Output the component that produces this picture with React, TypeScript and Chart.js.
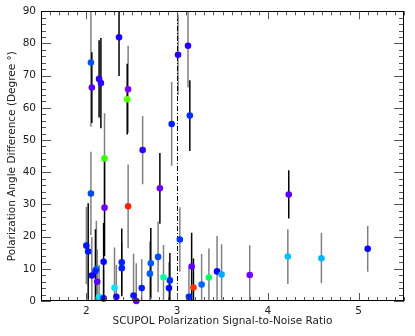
import React, { useEffect, useRef } from "react";
import { Chart, registerables } from "chart.js";

Chart.register(...registerables);

// SCUPOL signal-to-noise ratio (x)
const snr = [
  2.05, 2.06, 2.14, 2.16, 2.36, 2.46, 2.45, 2.62, 2.2, 3.12,
  3.01, 3.14, 2.94, 2.81, 2.05, 2.2, 2.46, 2.0, 2.02, 2.19,
  2.39, 2.39, 2.11, 2.1, 2.06, 2.12, 2.31, 2.14, 2.19, 2.33,
  2.52, 2.55, 2.61, 3.03, 2.71, 2.79, 2.7, 2.85, 2.92, 2.91,
  3.16, 3.18, 3.13, 3.27, 3.35, 3.44, 3.49, 3.8, 4.23, 4.22,
  4.59, 5.1,
];
// Polarization angle difference (degrees)
const angleDiff = [
  74.1, 66.3, 69.0, 67.7, 81.9, 65.8, 62.7, 46.9, 44.3, 79.3,
  76.5, 57.6, 55.0, 35.0, 33.4, 29.0, 29.4, 17.2, 15.4, 12.2,
  12.0, 10.2, 9.9, 9.3, 7.9, 6.0, 4.1, 1.3, 0.8, 1.3,
  1.7, 0.0, 4.0, 19.1, 11.7, 13.7, 8.5, 7.4, 6.4, 4.0,
  10.7, 4.2, 1.3, 5.1, 7.3, 9.2, 8.2, 8.1, 33.1, 13.8,
  13.3, 16.2,
];
// Angle uncertainty (degrees)
const angleErr = [
  20, 11, 12, 14, 12, 13.5, 11, 10.6, 14, 13,
  12.5, 11, 13, 11, 13, 15, 13, 12, 15, 12,
  10.5, 8, 15, 13, 12, 10, 12.5, 10, 9, 10,
  13, 11.7, 9, 10, 11, 11, 10, 10, 8.5, 8,
  10.5, 9, 9, 9.5, 9, 11, 9.4, 9.2, 7.5, 8.5,
  7.8, 7.1,
];
// Sample flag (1 = primary sample, 0 = secondary)
const primarySample = [
  0, 1, 1, 1, 1, 0, 1, 0, 0, 0,
  0, 1, 0, 1, 0, 1, 0, 0, 1, 1,
  1, 0, 0, 1, 0, 0, 0, 0, 0, 0,
  0, 0, 0, 0, 1, 0, 0, 0, 1, 0,
  1, 1, 0, 0, 0, 0, 0, 0, 1, 0,
  0, 0,
];
// Colour-coded quantity (0..1 on a rainbow scale)
const colorLevel = [
  0.18, 0.03, 0.07, 0.07, 0.09, 0.0, 0.63, 0.07, 0.6, 0.08,
  0.08, 0.15, 0.14, 0.02, 0.17, 0.01, 0.97, 0.13, 0.13, 0.12,
  0.14, 0.14, 0.2, 0.14, 0.1, 0.03, 0.31, 0.31, 0.11, 0.09,
  0.13, 0.03, 0.14, 0.16, 0.19, 0.18, 0.19, 0.41, 0.15, 0.11,
  0.03, 0.96, 0.14, 0.2, 0.47, 0.11, 0.26, 0.01, 0.03, 0.28,
  0.27, 0.1,
];
const xTickValues = [2, 3, 4, 5];
const yTickValues = [0, 10, 20, 30, 40, 50, 60, 70, 80, 90];
const snrThreshold = 3.0;

const FONT = "'DejaVu Sans', sans-serif";

function rainbow(level: number): string {
  const hue = 270 * (1 - level);
  return `hsl(${hue}, 100%, 50%)`;
}

const errorBarPlugin = {
  id: "errorBars",
  beforeDatasetsDraw(chart: any) {
    const { ctx, chartArea, scales } = chart;
    const xs = scales.x;
    const ys = scales.y;
    ctx.save();
    ctx.beginPath();
    ctx.rect(chartArea.left, chartArea.top, chartArea.right - chartArea.left, chartArea.bottom - chartArea.top);
    ctx.clip();
    ctx.lineWidth = 1.5;
    [0, 1].forEach((flag) => {
      ctx.strokeStyle = flag ? "#000000" : "#808080";
      snr.forEach((x, i) => {
        if (primarySample[i] !== flag) return;
        const px = xs.getPixelForValue(x);
        const y1 = ys.getPixelForValue(angleDiff[i] - angleErr[i]);
        const y2 = ys.getPixelForValue(angleDiff[i] + angleErr[i]);
        ctx.beginPath();
        ctx.moveTo(px, y1);
        ctx.lineTo(px, y2);
        ctx.stroke();
      });
    });
    // threshold dash-dot line
    const tx = Math.round(xs.getPixelForValue(snrThreshold)) + 0.5;
    ctx.strokeStyle = "#000000";
    ctx.lineWidth = 1;
    ctx.setLineDash([5, 2, 1, 2]);
    ctx.beginPath();
    ctx.moveTo(tx, chartArea.bottom);
    ctx.lineTo(tx, chartArea.top);
    ctx.stroke();
    ctx.restore();
  },
};

const frameTicksPlugin = {
  id: "frameTicks",
  afterDatasetsDraw(chart: any) {
    const { ctx, chartArea, scales } = chart;
    const { left, right, top, bottom } = chartArea;
    const xs = scales.x;
    const ys = scales.y;
    ctx.save();
    ctx.lineWidth = 1;
    ctx.strokeStyle = "#555555";
    for (let k = 15; k <= 55; k++) {
      const v = k / 10;
      const px = Math.round(xs.getPixelForValue(v)) + 0.5;
      const len = k % 10 === 0 ? 8 : 4;
      ctx.beginPath();
      ctx.moveTo(px, bottom);
      ctx.lineTo(px, bottom - len);
      ctx.moveTo(px, top);
      ctx.lineTo(px, top + len);
      ctx.stroke();
    }
    for (let v = 0; v <= 90; v += 2) {
      const py = Math.round(ys.getPixelForValue(v)) + 0.5;
      const len = v % 10 === 0 ? 10 : 5;
      ctx.beginPath();
      ctx.moveTo(left, py);
      ctx.lineTo(left + len, py);
      ctx.moveTo(right, py);
      ctx.lineTo(right - len, py);
      ctx.stroke();
    }
    ctx.strokeStyle = "#000000";
    ctx.strokeRect(Math.round(left) + 0.5, Math.round(top) + 0.5, Math.round(right - left) - 1, Math.round(bottom - top) - 1);
    ctx.restore();
  },
};

export default function App() {
  const canvasRef = useRef<HTMLCanvasElement | null>(null);

  useEffect(() => {
    document.body.style.margin = "0";
    const canvas = canvasRef.current;
    if (!canvas) return;
    const points = snr.map((x, i) => ({ x, y: angleDiff[i] }));
    const chart = new Chart(canvas, {
      type: "scatter",
      data: {
        datasets: [
          {
            data: points,
            pointRadius: 3.3,
            pointBorderWidth: 0,
            pointBackgroundColor: colorLevel.map(rainbow),
            pointBorderColor: colorLevel.map(rainbow),
            clip: false as any,
          },
        ],
      },
      options: {
        responsive: false,
        animation: false,
        layout: { padding: { top: 9, right: 11, left: 0, bottom: 0 } },
        plugins: { legend: { display: false }, tooltip: { enabled: false } },
        scales: {
          x: {
            type: "linear",
            min: 1.5,
            max: 5.5,
            afterBuildTicks: (s: any) => {
              s.ticks = xTickValues.map((v) => ({ value: v }));
            },
            afterFit: (s: any) => {
              s.height = 35;
            },
            grid: { display: true, drawOnChartArea: false, drawTicks: false },
            border: { display: false },
            ticks: { padding: 4, color: "#222", font: { family: FONT, size: 10.5 }, maxRotation: 0 },
            title: {
              display: true,
              text: "SCUPOL Polarization Signal-to-Noise Ratio",
              color: "#222",
              font: { family: FONT, size: 10.5 },
              padding: { top: 0, bottom: 8 },
            },
          },
          y: {
            type: "linear",
            min: 0,
            max: 90,
            afterBuildTicks: (s: any) => {
              s.ticks = yTickValues.map((v) => ({ value: v }));
            },
            afterFit: (s: any) => {
              s.width = 41;
            },
            grid: { display: true, drawOnChartArea: false, drawTicks: false },
            border: { display: false },
            ticks: { padding: 5, color: "#222", font: { family: FONT, size: 10.5 } },
            title: {
              display: true,
              text: "Polarization Angle Difference (Degree °)",
              color: "#222",
              font: { family: FONT, size: 10.5 },
              padding: { top: 6, bottom: 0 },
            },
          },
        },
      },
      plugins: [errorBarPlugin, frameTicksPlugin],
    });
    return () => chart.destroy();
  }, []);

  return (
    <div style={{ width: 415, height: 336 }}>
      <canvas ref={canvasRef} width={415} height={336} />
    </div>
  );
}
